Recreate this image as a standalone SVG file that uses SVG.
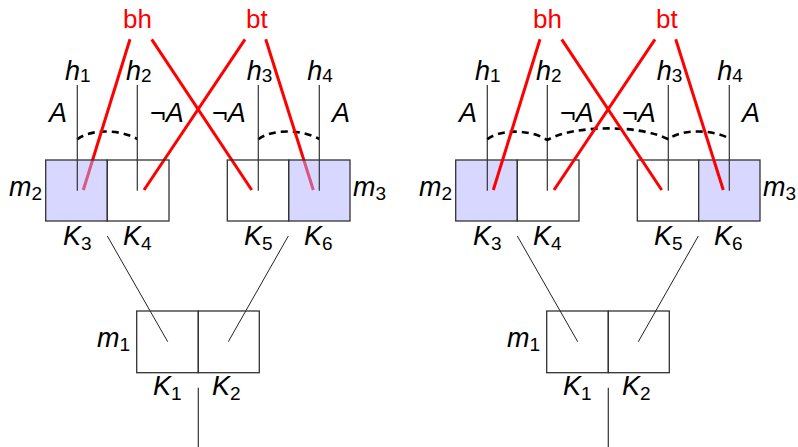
<svg xmlns="http://www.w3.org/2000/svg" width="798" height="447" viewBox="0 0 798 447">
<style>
.cell{fill:none;stroke:#333;stroke-width:1.3}
.shade{fill:#d7d7ff;stroke:#333;stroke-width:1.3}
.shadeT{fill:#b0b0ff;fill-opacity:0.5;stroke:#333;stroke-width:1.3}
.leg{stroke:#333;stroke-width:1.2;fill:none}
.thin{stroke:#222;stroke-width:1;fill:none}
.red{stroke:#ff0000;stroke-width:3;fill:none}
.dash{stroke:#000;stroke-width:2.6;fill:none;stroke-dasharray:7,5}
.m{font-family:"Liberation Sans",Arial,sans-serif;font-size:27px;fill:#000}
.i{font-style:italic}
.s{font-size:19px;font-style:normal}
.lab{font-family:"Liberation Sans",Arial,sans-serif;font-size:26px;fill:#ff0000}
</style>
<rect width="798" height="447" fill="#fff"/>

<!-- right diagram nodes (drawn under the red lines) -->
<g id="right-m2">
<rect class="shade" x="455.7" y="160" width="61.6" height="61"/>
<rect class="cell" x="517.3" y="160" width="61.7" height="61"/>
<line class="leg" x1="487.3" y1="85" x2="487.3" y2="190.7"/>
<line class="leg" x1="547.3" y1="85" x2="547.3" y2="190.7"/>
<text class="m" x="419" y="196"><tspan class="i">m</tspan><tspan class="s" dy="4">2</tspan></text>
<text class="m" x="473" y="245"><tspan class="i">K</tspan><tspan class="s" dy="5">3</tspan></text>
<text class="m" x="533" y="245"><tspan class="i">K</tspan><tspan class="s" dy="5">4</tspan></text>
</g>
<g id="right-m3">
<rect class="cell" x="637.3" y="160" width="61.4" height="61"/>
<rect class="shade" x="698.7" y="160" width="61.3" height="61"/>
<line class="leg" x1="668.3" y1="85" x2="668.3" y2="190.7"/>
<line class="leg" x1="729.3" y1="85" x2="729.3" y2="190.7"/>
<text class="m" x="763" y="196"><tspan class="i">m</tspan><tspan class="s" dy="4">3</tspan></text>
<text class="m" x="654" y="245"><tspan class="i">K</tspan><tspan class="s" dy="5">5</tspan></text>
<text class="m" x="714" y="245"><tspan class="i">K</tspan><tspan class="s" dy="5">6</tspan></text>
</g>
<g id="right-m1">
<rect class="cell" x="546.7" y="311" width="61.6" height="61.7"/>
<rect class="cell" x="608.3" y="311" width="61" height="61.7"/>
<text class="m" x="507" y="347"><tspan class="i">m</tspan><tspan class="s" dy="4">1</tspan></text>
<text class="m" x="563" y="395"><tspan class="i">K</tspan><tspan class="s" dy="5">1</tspan></text>
<text class="m" x="622" y="395"><tspan class="i">K</tspan><tspan class="s" dy="5">2</tspan></text>
</g>

<g id="connectors">
<!-- left -->
<line class="thin" x1="107.3" y1="236" x2="167.7" y2="341.7"/>
<line class="thin" x1="288.3" y1="236" x2="228.3" y2="341.7"/>
<line class="leg" x1="198.3" y1="387.7" x2="198.3" y2="447"/>
<path class="dash" d="M77.3,139.3 C90,129 120,129 137.3,139"/>
<path class="dash" d="M258.3,139.3 C271,129 302,129 319.3,139"/>
<line class="red" x1="130" y1="39.3" x2="83.3" y2="190"/>
<line class="red" x1="151.7" y1="39.3" x2="251.7" y2="190"/>
<line class="red" x1="245" y1="39.3" x2="144" y2="190"/>
<line class="red" x1="265.7" y1="39.3" x2="313.3" y2="190"/>
<!-- right -->
<line class="thin" x1="517.3" y1="236" x2="577.7" y2="341.7"/>
<line class="thin" x1="698.3" y1="236" x2="638.3" y2="341.7"/>
<line class="leg" x1="608.3" y1="387.7" x2="608.3" y2="447"/>
<path class="dash" d="M487.3,139.3 C500,129 530,129 547.3,140 C575,124.6 640,124.6 668.3,139.3 C681,129 712,129 729.3,138.5"/>
<line class="red" x1="540" y1="39.3" x2="493.3" y2="190"/>
<line class="red" x1="561.7" y1="39.3" x2="661.7" y2="190"/>
<line class="red" x1="655" y1="39.3" x2="554" y2="190"/>
<line class="red" x1="675.7" y1="39.3" x2="723.3" y2="190"/>
</g>

<!-- left diagram nodes (translucent shading over the red lines) -->
<g id="left-m2">
<rect class="shadeT" x="45.7" y="160" width="61.6" height="61"/>
<rect class="cell" x="107.3" y="160" width="61.7" height="61"/>
<line class="leg" x1="77.3" y1="85" x2="77.3" y2="190.7"/>
<line class="leg" x1="137.3" y1="85" x2="137.3" y2="190.7"/>
<text class="m" x="9" y="196"><tspan class="i">m</tspan><tspan class="s" dy="4">2</tspan></text>
<text class="m" x="63" y="245"><tspan class="i">K</tspan><tspan class="s" dy="5">3</tspan></text>
<text class="m" x="123" y="245"><tspan class="i">K</tspan><tspan class="s" dy="5">4</tspan></text>
</g>
<g id="left-m3">
<rect class="cell" x="227.3" y="160" width="61.4" height="61"/>
<rect class="shadeT" x="288.7" y="160" width="61.3" height="61"/>
<line class="leg" x1="258.3" y1="85" x2="258.3" y2="190.7"/>
<line class="leg" x1="319.3" y1="85" x2="319.3" y2="190.7"/>
<text class="m" x="353" y="196"><tspan class="i">m</tspan><tspan class="s" dy="4">3</tspan></text>
<text class="m" x="244" y="245"><tspan class="i">K</tspan><tspan class="s" dy="5">5</tspan></text>
<text class="m" x="304" y="245"><tspan class="i">K</tspan><tspan class="s" dy="5">6</tspan></text>
</g>
<g id="left-m1">
<rect class="cell" x="136.7" y="311" width="61.6" height="61.7"/>
<rect class="cell" x="198.3" y="311" width="61" height="61.7"/>
<text class="m" x="97" y="347"><tspan class="i">m</tspan><tspan class="s" dy="4">1</tspan></text>
<text class="m" x="153" y="395"><tspan class="i">K</tspan><tspan class="s" dy="5">1</tspan></text>
<text class="m" x="212" y="395"><tspan class="i">K</tspan><tspan class="s" dy="5">2</tspan></text>
</g>

<g id="labels">
<text class="lab" x="123" y="28">bh</text>
<text class="lab" x="246" y="28">bt</text>
<text class="lab" x="533" y="28">bh</text>
<text class="lab" x="656" y="28">bt</text>
<text class="m" x="65" y="80"><tspan class="i">h</tspan><tspan class="s" dy="2">1</tspan></text>
<text class="m" x="126" y="80"><tspan class="i">h</tspan><tspan class="s" dy="2">2</tspan></text>
<text class="m" x="246.7" y="80"><tspan class="i">h</tspan><tspan class="s" dy="2">3</tspan></text>
<text class="m" x="307.3" y="80"><tspan class="i">h</tspan><tspan class="s" dy="2">4</tspan></text>
<text class="m" x="475" y="80"><tspan class="i">h</tspan><tspan class="s" dy="2">1</tspan></text>
<text class="m" x="536" y="80"><tspan class="i">h</tspan><tspan class="s" dy="2">2</tspan></text>
<text class="m" x="656.7" y="80"><tspan class="i">h</tspan><tspan class="s" dy="2">3</tspan></text>
<text class="m" x="717.3" y="80"><tspan class="i">h</tspan><tspan class="s" dy="2">4</tspan></text>
<text class="m i" x="49" y="121.7">A</text>
<text class="m" x="150" y="121.7">¬<tspan class="i">A</tspan></text>
<text class="m" x="212" y="121.7">¬<tspan class="i">A</tspan></text>
<text class="m i" x="332" y="121.7">A</text>
<text class="m i" x="459" y="121.7">A</text>
<text class="m" x="560" y="121.7">¬<tspan class="i">A</tspan></text>
<text class="m" x="622" y="121.7">¬<tspan class="i">A</tspan></text>
<text class="m i" x="742" y="121.7">A</text>
</g>
</svg>
